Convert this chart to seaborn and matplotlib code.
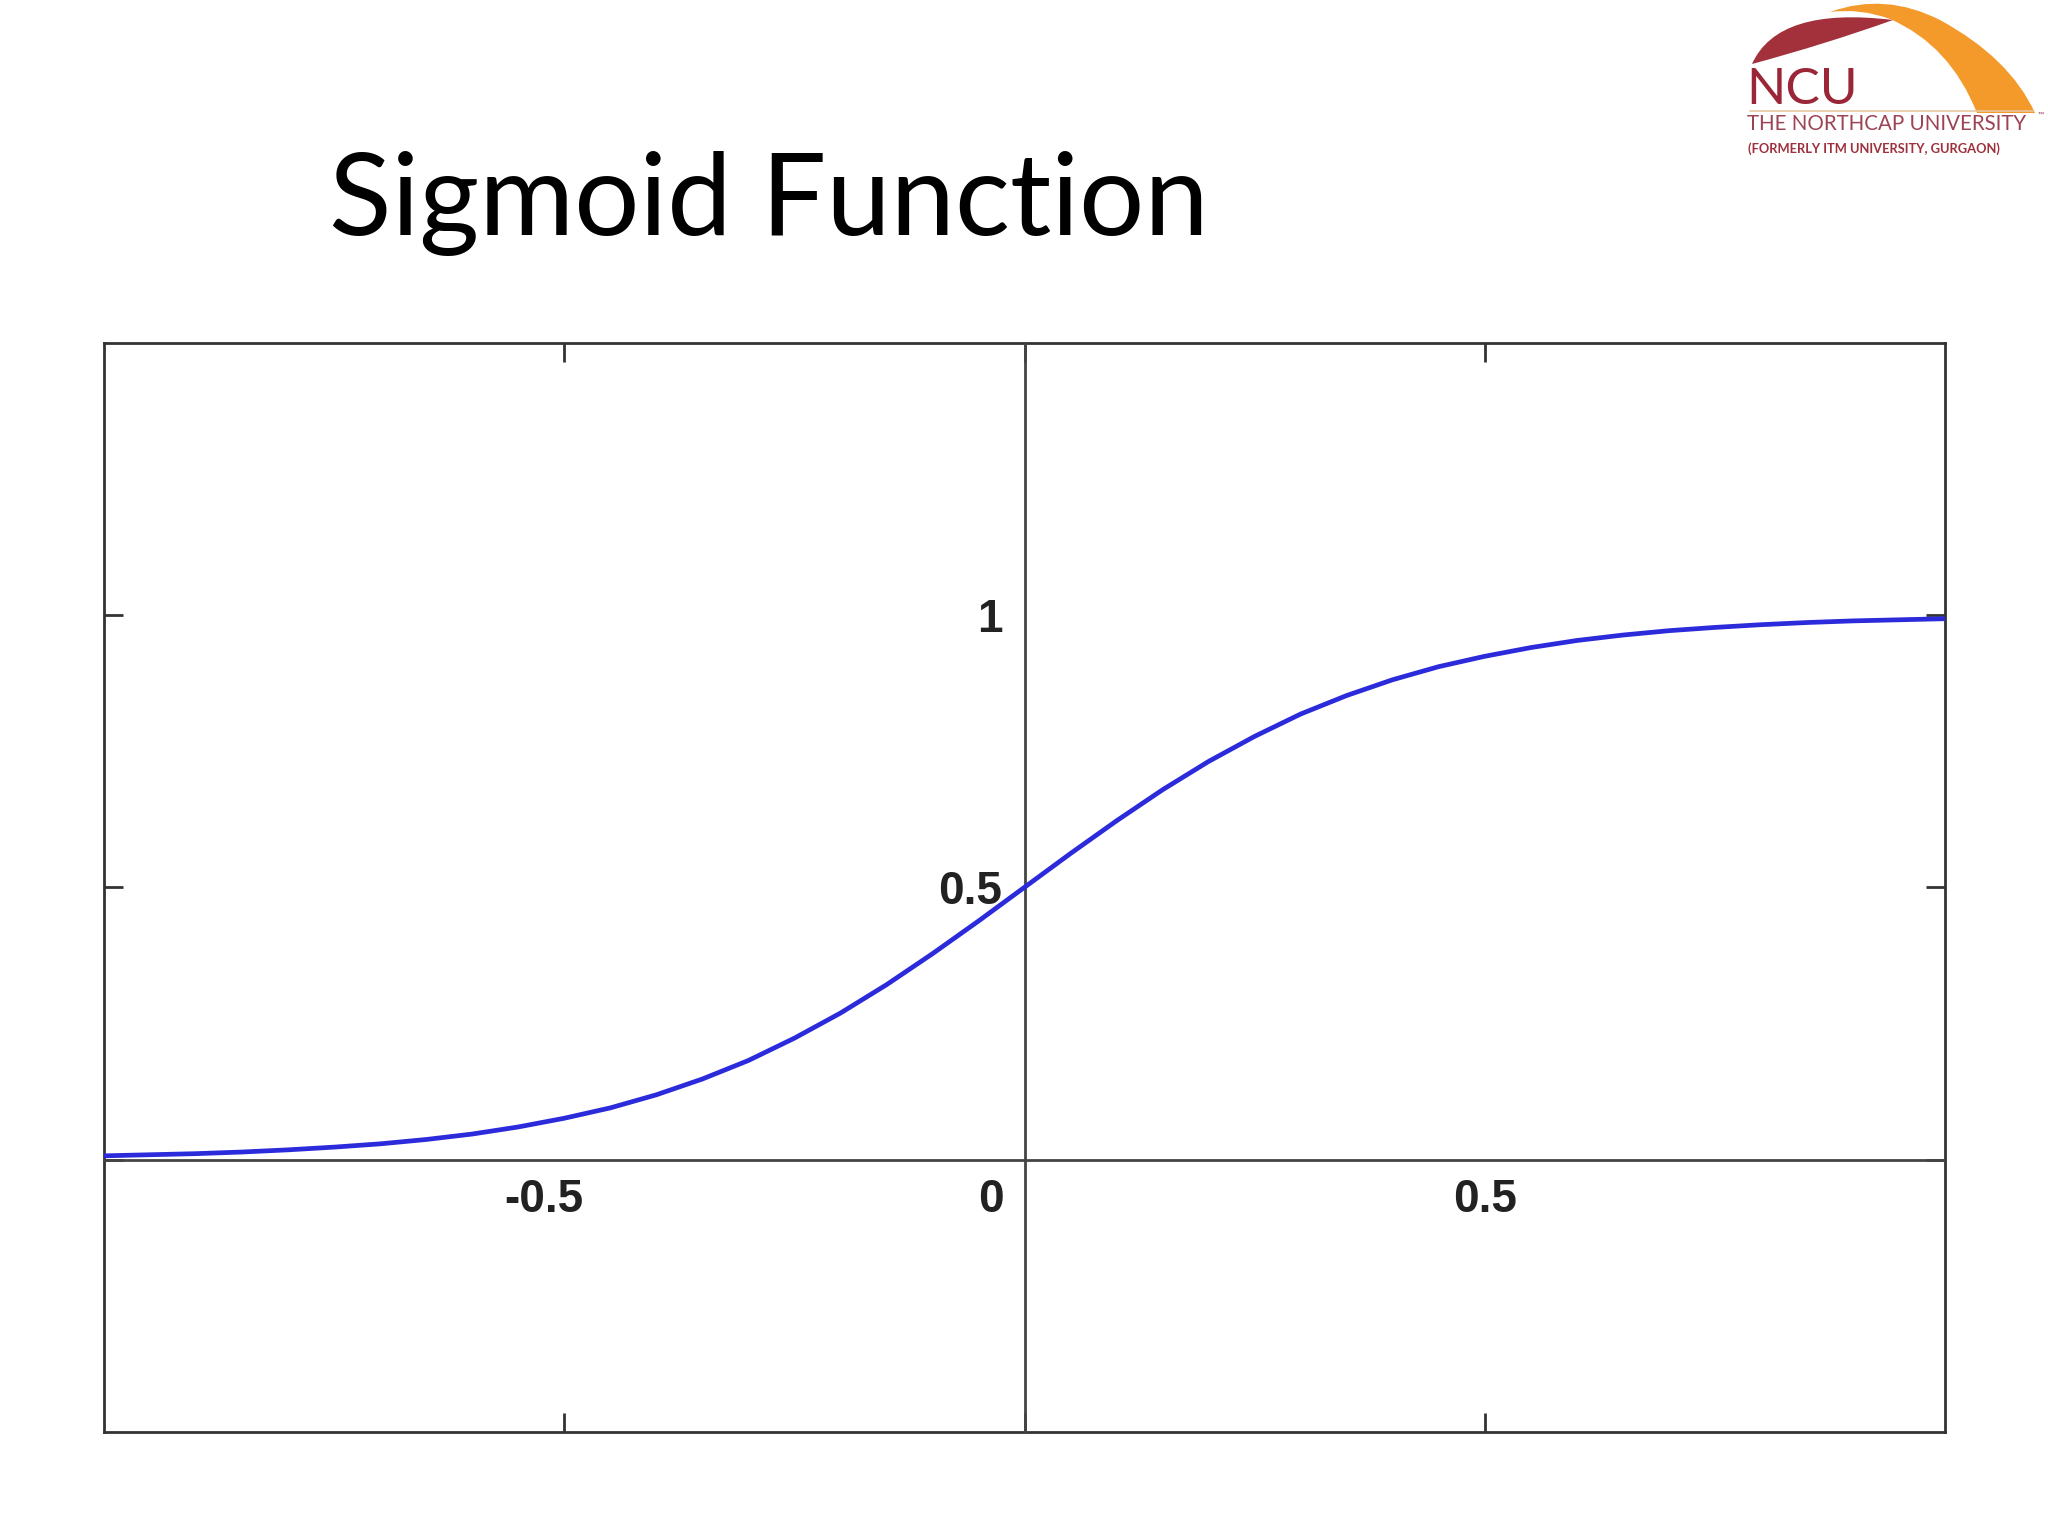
import matplotlib
matplotlib.use("Agg")
import matplotlib.pyplot as plt
import matplotlib.transforms as mtransforms
from matplotlib.path import Path
from matplotlib.patches import PathPatch
import seaborn as sns

# values
x_vals = [-1.0, -0.95, -0.9, -0.85, -0.8, -0.75, -0.7, -0.65, -0.6, -0.55,
          -0.5, -0.45, -0.4, -0.35, -0.3, -0.25, -0.2, -0.15, -0.1, -0.05,
          0.0, 0.05, 0.1, 0.15, 0.2, 0.25, 0.3, 0.35, 0.4, 0.45,
          0.5, 0.55, 0.6, 0.65, 0.7, 0.75, 0.8, 0.85, 0.9, 0.95, 1.0]
y_vals = [0.007, 0.009, 0.011, 0.014, 0.018, 0.023, 0.029, 0.037, 0.047, 0.060,
          0.076, 0.095, 0.119, 0.148, 0.182, 0.223, 0.269, 0.321, 0.378, 0.438,
          0.500, 0.562, 0.622, 0.679, 0.731, 0.777, 0.818, 0.852, 0.881, 0.905,
          0.924, 0.940, 0.953, 0.963, 0.971, 0.977, 0.982, 0.986, 0.989, 0.991, 0.993]

x_ticks = [-0.5, 0, 0.5]
x_ticklabels = ["-0.5", "0", "0.5"]
y_ticks = [0.5, 1]
y_ticklabels = ["0.5", "1"]

title = "Sigmoid Function"

sns.set_style("white")
plt.rcParams['font.family'] = ['Lato', 'DejaVu Sans']

fig = plt.figure(figsize=(20.48, 15.36), dpi=100)
rect = [0.0508, 0.0677, 0.8989, 0.7093]
edge = '#333333'

# outer box with inward ticks
ax = fig.add_axes(rect)
ax.set_xlim(-1, 1)
ax.set_ylim(-0.5, 1.5)
ax.set_xticks(x_ticks)
ax.set_yticks([0] + y_ticks)
ax.tick_params(direction='in', top=True, right=True, bottom=True, left=True,
               length=14, width=2, color=edge,
               labelbottom=False, labelleft=False)
for s in ax.spines.values():
    s.set_linewidth(2)
    s.set_color(edge)
    s.set_visible(True)

# axes crossing at origin
ax2 = fig.add_axes(rect)
ax2.patch.set_alpha(0)
ax2.set_xlim(-1, 1)
ax2.set_ylim(-0.5, 1.5)
ax2.spines['left'].set_position(('data', 0))
ax2.spines['bottom'].set_position(('data', 0))
ax2.spines['top'].set_visible(False)
ax2.spines['right'].set_visible(False)
for side in ['left', 'bottom']:
    ax2.spines[side].set_linewidth(2)
    ax2.spines[side].set_color('#444444')
ax2.set_xticks(x_ticks, x_ticklabels)
ax2.set_yticks(y_ticks, y_ticklabels)
ax2.tick_params(direction='in', length=14, width=2, color='#444444',
                labelsize=33, labelcolor='#222222')
ax2.tick_params(axis='x', pad=13)
ax2.tick_params(axis='y', pad=16)
for lab in ax2.get_xticklabels() + ax2.get_yticklabels():
    lab.set_fontfamily('Liberation Sans')
    lab.set_fontweight('bold')

sns.lineplot(x=x_vals, y=y_vals, ax=ax2, color='#2b2bdb', lw=3.4, zorder=3)
ax2.set_xlabel('')
ax2.set_ylabel('')

# nudge the x labels like the original
shifts = {"-0.5": -20, "0": -34, "0.5": 0}
for lab in ax2.get_xticklabels():
    dx = shifts.get(lab.get_text(), 0)
    off = mtransforms.ScaledTranslation(dx / 100, 0, fig.dpi_scale_trans)
    lab.set_transform(lab.get_transform() + off)

# slide title
fig.text(329 / 2048, 1 - 235 / 1536, title, fontsize=83, color='black',
         va='baseline', ha='left', family=['Lato', 'DejaVu Sans'])

# logo in pixel space
lg = fig.add_axes([0, 0, 1, 1], zorder=-1)
lg.set_xlim(0, 2048)
lg.set_ylim(1536, 0)
lg.axis('off')

orange = Path([(1830, 12), (1885, -8), (1940, 20), (2010, 58), (2035, 113),
               (1977, 113), (1950, 45), (1890, 19), (1860, 8), (1830, 12)],
              [Path.MOVETO, Path.CURVE3, Path.CURVE3, Path.CURVE3, Path.CURVE3,
               Path.LINETO, Path.CURVE3, Path.CURVE3, Path.CURVE3, Path.CURVE3])
lg.add_patch(PathPatch(orange, facecolor='#f39a2b', edgecolor='none'))
red = Path([(1752, 64), (1778, 6), (1893, 20), (1826, 44), (1752, 64)],
           [Path.MOVETO, Path.CURVE3, Path.CURVE3, Path.CURVE3, Path.CURVE3])
lg.add_patch(PathPatch(red, facecolor='#a2313b', edgecolor='none'))

lg.plot([1750, 2033], [111, 111], color='#e6c7a0', lw=1.2)
lg.text(1746, 104, "NCU", fontsize=37, color='#9a2637',
        va='baseline', ha='left')
lg.text(1747, 130, "THE NORTHCAP UNIVERSITY", fontsize=14.8, color='#9c4455',
        va='baseline', ha='left')
lg.text(2038, 118, "\u2122", fontsize=6, color='#9c4455', va='baseline')
lg.text(1748, 153, "(FORMERLY ITM UNIVERSITY, GURGAON)", fontsize=9.3,
        color='#9e2f3c', fontweight='bold', va='baseline', ha='left')

fig.savefig("out.png", dpi=100)
